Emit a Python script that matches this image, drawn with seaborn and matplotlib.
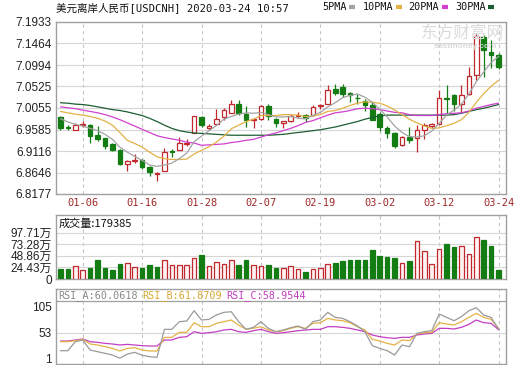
import numpy as np
import matplotlib
matplotlib.use("Agg")
import matplotlib.pyplot as plt
import seaborn as sns

sns.set_style("white")
plt.rcParams['font.family'] = ['Liberation Sans', 'Noto Sans CJK SC', 'DejaVu Sans']

# ---- data (60 trading days, 12-31 .. 03-24) ----
tick_idx = [3, 11, 19, 27, 35, 43, 51, 59]
tick_labels = ['01-06', '01-16', '01-28', '02-07', '02-19', '03-02', '03-12', '03-24']

opens = [6.986, 6.964, 6.9585, 6.968, 6.969, 6.946, 6.939, 6.927, 6.914, 6.8834,
         6.889, 6.892, 6.876, 6.8615, 6.868, 6.911, 6.914, 6.927, 6.950, 6.986,
         6.962, 6.970, 6.986, 6.995, 7.015, 6.992, 6.979, 6.982, 7.009, 6.981,
         6.973, 6.977, 6.988, 6.990, 6.990, 7.009, 7.014, 7.047, 7.051, 7.038,
         7.028, 7.021, 7.011, 6.993, 6.962, 6.950, 6.925, 6.942, 6.940, 6.957,
         6.966, 6.971, 7.028, 7.033, 7.015, 7.037, 7.078, 7.160, 7.128, 7.121]
highs = [6.988, 6.968, 6.972, 6.978, 6.970, 6.966, 6.941, 6.929, 6.915, 6.892,
         6.906, 6.895, 6.878, 6.866, 6.918, 6.917, 6.943, 6.938, 6.989, 6.988,
         6.971, 7.004, 7.006, 7.023, 7.023, 7.009, 6.982, 7.011, 7.014, 6.983,
         6.978, 6.993, 6.997, 6.992, 7.011, 7.015, 7.055, 7.059, 7.059, 7.040,
         7.035, 7.026, 7.018, 6.997, 6.967, 6.953, 6.944, 6.965, 6.968, 6.972,
         6.973, 7.044, 7.055, 7.035, 7.055, 7.094, 7.168, 7.166, 7.153, 7.126]
lows = [6.958, 6.958, 6.9585, 6.965, 6.930, 6.934, 6.917, 6.912, 6.881, 6.867,
        6.886, 6.872, 6.858, 6.845, 6.867, 6.899, 6.913, 6.922, 6.950, 6.965,
        6.958, 6.970, 6.979, 6.994, 6.990, 6.965, 6.961, 6.979, 6.980, 6.963,
        6.961, 6.975, 6.985, 6.975, 6.988, 7.004, 7.014, 7.033, 7.029, 7.019,
        7.015, 7.000, 6.979, 6.955, 6.941, 6.919, 6.922, 6.928, 6.909, 6.938,
        6.962, 6.970, 6.990, 6.999, 6.997, 7.033, 7.066, 7.074, 7.093, 7.090]
closes = [6.961, 6.962, 6.968, 6.970, 6.944, 6.937, 6.922, 6.914, 6.883, 6.890,
          6.892, 6.877, 6.866, 6.8645, 6.910, 6.909, 6.930, 6.929, 6.987, 6.968,
          6.967, 6.982, 7.002, 7.015, 6.995, 6.979, 6.981, 7.009, 6.989, 6.972,
          6.977, 6.987, 6.991, 6.984, 7.008, 7.012, 7.044, 7.038, 7.037, 7.033,
          7.027, 7.011, 6.980, 6.964, 6.950, 6.923, 6.943, 6.936, 6.957, 6.968,
          6.970, 7.028, 7.026, 7.015, 7.033, 7.076, 7.163, 7.133, 7.121, 7.096]

ma5 = [6.982, 6.975, 6.970, 6.966, 6.961, 6.956, 6.948, 6.937, 6.920, 6.909,
       6.900, 6.891, 6.881, 6.878, 6.881, 6.885, 6.895, 6.907, 6.932, 6.944,
       6.956, 6.967, 6.981, 6.987, 6.992, 6.995, 6.994, 6.996, 6.991, 6.986,
       6.986, 6.987, 6.983, 6.982, 6.989, 6.996, 7.008, 7.017, 7.028, 7.033,
       7.036, 7.029, 7.018, 7.003, 6.986, 6.966, 6.952, 6.943, 6.942, 6.945,
       6.955, 6.972, 6.990, 7.001, 7.014, 7.036, 7.063, 7.084, 7.105, 7.118]
ma10 = [6.998, 6.995, 6.992, 6.990, 6.987, 6.983, 6.977, 6.968, 6.952, 6.935,
        6.928, 6.920, 6.909, 6.899, 6.895, 6.893, 6.893, 6.894, 6.905, 6.913,
        6.921, 6.931, 6.944, 6.960, 6.968, 6.976, 6.981, 6.989, 6.989, 6.989,
        6.991, 6.991, 6.990, 6.987, 6.988, 6.991, 6.998, 7.000, 7.005, 7.011,
        7.016, 7.019, 7.018, 7.016, 7.010, 7.001, 6.991, 6.981, 6.973, 6.966,
        6.961, 6.962, 6.967, 6.972, 6.980, 6.996, 7.018, 7.037, 7.053, 7.066]
ma20 = [7.008, 7.006, 7.004, 7.001, 6.998, 6.995, 6.991, 6.986, 6.980, 6.973,
        6.966, 6.959, 6.952, 6.945, 6.941, 6.938, 6.935, 6.931, 6.929, 6.924,
        6.925, 6.926, 6.927, 6.930, 6.932, 6.935, 6.937, 6.942, 6.947, 6.951,
        6.956, 6.961, 6.967, 6.974, 6.978, 6.984, 6.990, 6.995, 6.997, 7.000,
        7.004, 7.005, 7.004, 7.002, 6.999, 6.996, 6.995, 6.991, 6.989, 6.989,
        6.989, 6.991, 6.993, 6.994, 6.995, 6.999, 7.005, 7.009, 7.013, 7.016]
ma30 = [7.017, 7.016, 7.014, 7.013, 7.011, 7.008, 7.005, 7.002, 7.000, 6.997,
        6.993, 6.989, 6.983, 6.976, 6.968, 6.961, 6.956, 6.953, 6.951, 6.950,
        6.949, 6.948, 6.947, 6.946, 6.946, 6.946, 6.946, 6.946, 6.946, 6.947,
        6.948, 6.950, 6.952, 6.954, 6.956, 6.958, 6.961, 6.964, 6.968, 6.972,
        6.976, 6.981, 6.985, 6.988, 6.990, 6.990, 6.990, 6.990, 6.990, 6.990,
        6.990, 6.990, 6.990, 6.991, 6.994, 6.998, 7.002, 7.005, 7.009, 7.013]

# volume in 万 (10k); 1 = up day (red), 0 = down day (green)
volume = [21.1, 21.1, 27.4, 19.0, 23.9, 40.0, 23.9, 19.0, 31.6, 34.4,
          26.0, 23.9, 29.5, 26.0, 40.0, 29.5, 29.5, 29.5, 43.5, 50.5,
          27.4, 35.1, 30.9, 40.0, 29.5, 40.0, 29.5, 27.4, 29.5, 23.9,
          22.5, 27.4, 21.1, 15.4, 21.1, 22.5, 31.6, 34.4, 38.6, 40.0,
          40.0, 40.0, 61.1, 48.4, 46.3, 43.5, 34.4, 37.9, 80.0, 59.0,
          31.6, 63.2, 73.7, 68.1, 69.5, 52.7, 87.8, 82.1, 69.5, 17.94]
vol_up = [0, 0, 1, 1, 0, 0, 0, 0, 0, 1, 1, 0, 0, 0, 1, 1, 1, 1, 1, 0,
          1, 1, 1, 1, 0, 0, 1, 1, 0, 0, 1, 1, 1, 0, 1, 1, 1, 0, 0, 0,
          0, 0, 0, 0, 0, 0, 1, 0, 1, 1, 1, 1, 0, 0, 1, 1, 1, 0, 0, 0]

rsi_a = [17.0, 17.0, 35.0, 38.3, 18.3, 15.0, 11.7, 8.3, 2.0, 10.3,
         13.7, 8.0, 5.0, 3.7, 59.7, 59.7, 75.0, 76.4, 97.0, 78.4,
         79.7, 88.4, 93.7, 95.0, 75.0, 59.7, 63.7, 75.0, 61.7, 55.0,
         58.4, 63.0, 66.4, 59.7, 75.0, 78.4, 93.7, 83.7, 81.7, 75.0,
         66.4, 55.0, 27.0, 21.7, 17.0, 8.3, 28.4, 25.0, 51.7, 55.0,
         57.0, 90.4, 83.7, 77.0, 85.0, 97.0, 103.0, 88.4, 83.7, 60.0618]
rsi_b = [35.0, 35.0, 37.0, 39.7, 30.4, 28.4, 25.0, 21.7, 16.4, 21.7,
         23.0, 18.4, 16.4, 16.4, 43.7, 43.7, 53.7, 53.7, 73.0, 65.0,
         65.0, 71.7, 75.0, 78.4, 68.0, 60.0, 62.0, 65.0, 58.4, 55.0,
         57.0, 61.7, 65.0, 61.7, 71.7, 73.0, 81.7, 78.4, 77.0, 73.0,
         65.0, 58.4, 39.7, 36.4, 31.7, 28.4, 38.4, 37.0, 50.4, 53.0,
         53.7, 73.0, 70.4, 68.4, 75.0, 83.7, 91.7, 83.7, 79.7, 61.8709]
rsi_c = [36.4, 36.4, 38.4, 40.4, 35.0, 33.7, 31.7, 30.4, 28.4, 29.7,
         28.4, 27.0, 26.4, 26.4, 38.4, 38.4, 43.7, 45.0, 55.0, 51.7,
         53.0, 55.0, 58.4, 59.7, 55.0, 53.7, 57.0, 59.7, 55.0, 51.7,
         53.0, 55.0, 57.0, 58.4, 59.7, 59.7, 65.0, 65.0, 63.7, 61.7,
         58.4, 55.0, 48.4, 45.0, 43.0, 41.7, 43.7, 43.7, 48.4, 50.4,
         51.7, 61.7, 61.7, 60.4, 63.7, 69.7, 78.4, 73.0, 71.7, 58.9544]

# ---- styling ----
RED = '#c0282d'
GREEN = '#137c13'
C5, C10, C20, C30 = '#a3a3a3', '#e3b246', '#d040d0', '#1d5e32'
SPINE = '#a0a0a0'
GRID = '#d6d6d6'
MONO = ['DejaVu Sans Mono', 'Noto Sans CJK SC']

x = np.arange(len(closes))
o, h, l, c = map(np.array, (opens, highs, lows, closes))
up = c >= o

fig = plt.figure(figsize=(5.2, 3.65), dpi=100)
W, H = 520.0, 365.0


def add_panel(top, bottom):
    ax = fig.add_axes([56 / W, 1 - bottom / H, 450 / W, (bottom - top) / H])
    for s in ax.spines.values():
        s.set_color(SPINE)
        s.set_linewidth(1.0)
    ax.set_xlim(-0.6, 60.0)
    ax.set_xticks(tick_idx)
    ax.tick_params(length=0, labelsize=8.5, colors='#222222', pad=3)
    for t in tick_idx:
        ax.axvline(t, color='#c4c4c4', lw=0.8, ls=(0, (3, 3)), zorder=0)
    return ax


# main price panel
ax = add_panel(22, 194)
ax.set_ylim(6.8177, 7.1933)
yt = [6.8177, 6.8646, 6.9116, 6.9585, 7.0055, 7.0525, 7.0994, 7.1464, 7.1933]
ax.set_yticks(yt)
ax.set_yticklabels([f"{v:.4f}" for v in yt])
for v in yt[1:-1]:
    ax.axhline(v, color=GRID, lw=0.8, zorder=0)
ax.set_xticklabels(tick_labels, family=MONO, fontsize=7.5, color='#a02828')

ax.vlines(x[up], l[up], h[up], color=RED, lw=0.9, zorder=3)
ax.vlines(x[~up], l[~up], h[~up], color=GREEN, lw=0.9, zorder=3)
body = np.maximum(np.abs(c - o), 0.0006)
ax.bar(x[up], body[up], bottom=np.minimum(o, c)[up], width=0.62,
       facecolor='white', edgecolor=RED, lw=0.9, zorder=4)
ax.bar(x[~up], body[~up], bottom=np.minimum(o, c)[~up], width=0.62,
       facecolor=GREEN, edgecolor=GREEN, lw=0.9, zorder=4)

for vals, col in [(ma30, C30), (ma20, C20), (ma10, C10), (ma5, C5)]:
    sns.lineplot(x=x, y=vals, ax=ax, color=col, lw=0.9, legend=False, zorder=5)
ax.set_xlabel('')
ax.set_ylabel('')

# volume panel
axv = add_panel(215, 279)
axv.set_ylim(0, 134.8)
vt = [0, 24.43, 48.86, 73.28, 97.71]
axv.set_yticks(vt)
axv.set_yticklabels(['0'] + [f"{v:.2f}万" for v in vt[1:]])
axv.set_xticklabels([])
for v in vt[1:]:
    axv.axhline(v, color=GRID, lw=0.8, zorder=0)
vu = np.array(vol_up, bool)
vol = np.array(volume)
axv.bar(x[vu], vol[vu], width=0.62, facecolor='#fff2f2', edgecolor=RED, lw=0.9, zorder=3)
axv.bar(x[~vu], vol[~vu], width=0.62, facecolor=GREEN, edgecolor=GREEN, lw=0.9, zorder=3)
axv.text(0.005, 0.87, '成交量:179385', transform=axv.transAxes, fontsize=8,
         family=['Noto Sans CJK SC', 'DejaVu Sans'], va='center', color='#111111')

# RSI panel
axr = add_panel(289, 364)
axr.set_ylim(-9.6, 140.4)
axr.set_yticks([1, 53, 105])
axr.set_xticklabels([])
axr.axhline(53, color=GRID, lw=0.8, zorder=0)
axr.axhline(116.4, color=SPINE, lw=0.9, zorder=2)
for vals, col in [(rsi_c, '#c23ec2'), (rsi_b, C10), (rsi_a, '#9a9a9a')]:
    sns.lineplot(x=x, y=vals, ax=axr, color=col, lw=0.9, legend=False, zorder=4)
axr.set_xlabel('')
axr.set_ylabel('')
for xp, txt, col in [(58, 'RSI_A:60.0618', '#8a8a8a'), (142, 'RSI_B:61.8709', '#d9a830'),
                     (226, 'RSI_C:58.9544', '#c23ec2')]:
    fig.text(xp / W, 1 - 295.5 / H, txt, fontsize=7.3, family=MONO, color=col, va='center')

# title and legend
fig.text(56 / W, 1 - 8 / H, '美元离岸人民币[USDCNH] 2020-03-24 10:57', fontsize=7.6,
         family=MONO, va='center', color='#111111')
for xp, dx, txt, col in [(322, 349, '5PMA', C5), (363, 396, '10PMA', C10),
                         (408, 442, '20PMA', C20), (455, 488, '30PMA', C30)]:
    fig.text(xp / W, 1 - 7 / H, txt, fontsize=7.3, family=MONO, va='center', color='#111111')
    fig.add_artist(plt.Line2D([dx / W, (dx + 6) / W], [1 - 7 / H, 1 - 7 / H],
                              color=col, lw=3, solid_capstyle='butt'))

# watermark
fig.text(462 / W, 1 - 33 / H, '东方财富网', fontsize=12, color='#dadada', ha='center',
         va='center', family=['Noto Sans CJK SC'])
fig.text(465 / W, 1 - 46 / H, 'eastmoney.com', fontsize=6, color='#dadada', ha='center',
         va='center', weight='bold')

fig.savefig('out.png', dpi=100)
